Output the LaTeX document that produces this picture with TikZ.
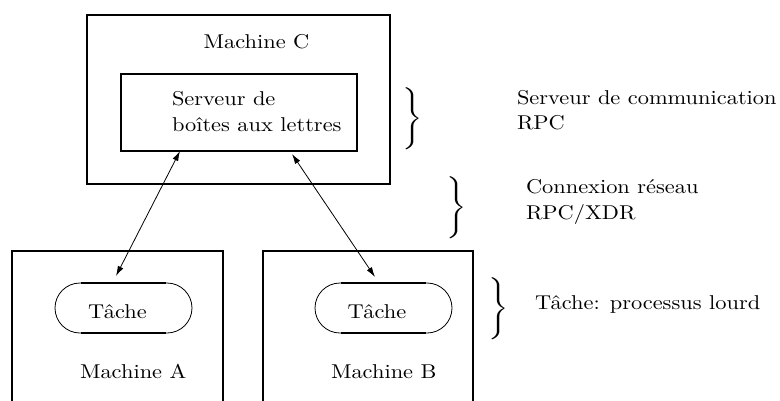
\documentclass[tikz,border=0pt]{standalone}
\usepackage{fontspec}
\usetikzlibrary{arrows.meta,shapes.misc}
% 10pt Latin Modern, stretched to the wide look of the labels
\newcommand\labeltext[1]{\scalebox{2.24}[2.0]{\fontsize{10}{12}\selectfont #1}}
% one large brace glyph, stretched
\newcommand\bigbrace{\scalebox{2.5}[2.07]{\fontsize{10}{12}\selectfont $\Bigg\}$}}
\begin{document}
\begin{tikzpicture}[x=1pt,y=-1pt,
  lbl/.style={inner sep=0pt, outer sep=0pt},
  frame/.style={draw, line width=2.2pt, inner sep=0pt, outer sep=0pt},
  task/.style={draw, line width=0.8pt, rounded rectangle, inner sep=0pt,
    outer sep=0pt, minimum width=137pt, minimum height=50pt},
  taskedge/.style={line width=2.2pt},
  link/.style={line width=0.8pt, {Latex[length=10pt,width=6pt]}-{Latex[length=10pt,width=6pt]}},
  brace/.style={inner sep=0pt, outer sep=0pt},
]
\useasboundingbox (0,0) rectangle (780,400);

% server machine
\node[frame, minimum width=303pt, minimum height=169pt] (mc) at (238.5,99.5) {};
\node[lbl, anchor=base] (mclabel) at (256.5,48) {\labeltext{Machine C}};
\node[frame, minimum width=236pt, minimum height=77pt] (srv) at (239,112.5) {};
\node[lbl, anchor=base west] (srvl1) at (172,105) {\labeltext{Serveur de}};
\node[lbl, anchor=base west] (srvl2) at (172,131) {\labeltext{boîtes aux lettres}};

% client machines (frames run off the bottom edge)
\draw[line width=2.2pt] (12,402) |- (223,251) -- (223,402);
\draw[line width=2.2pt] (263,402) |- (473,251) -- (473,402);

% tasks
\node[task] (ta) at (123.5,308) {};
\node[task] (tb) at (383.5,308) {};
\draw[taskedge] ([xshift=-42.5pt]ta.north) -- ([xshift=42.5pt]ta.north);
\draw[taskedge] ([xshift=-42.5pt]ta.south) -- ([xshift=42.5pt]ta.south);
\draw[taskedge] ([xshift=-42.5pt]tb.north) -- ([xshift=42.5pt]tb.north);
\draw[taskedge] ([xshift=-42.5pt]tb.south) -- ([xshift=42.5pt]tb.south);
\node[lbl, anchor=base] (tal) at (117.5,318) {\labeltext{Tâche}};
\node[lbl, anchor=base] (tbl) at (377,318) {\labeltext{Tâche}};
\node[lbl, anchor=base west] (mal) at (80,378) {\labeltext{Machine A}};
\node[lbl, anchor=base west] (mbl) at (331,378) {\labeltext{Machine B}};

% RPC links
\draw[link] ([xshift=-59pt]srv.south) -- ([xshift=-7.5pt,yshift=7pt]ta.north);
\draw[link] ([xshift=53pt,yshift=-3pt]srv.south) -- ([xshift=-8.5pt,yshift=6pt]tb.north);

% legend
\node[brace] (b1) at (413,119) {\bigbrace};
\node[brace] (b2) at (456.5,207.5) {\bigbrace};
\node[brace] (b3) at (498.5,309) {\bigbrace};
\node[lbl, anchor=base west] (l1a) at (517,104) {\labeltext{Serveur de communication}};
\node[lbl, anchor=base west] (l1b) at (517,129) {\labeltext{RPC}};
\node[lbl, anchor=base west] (l2a) at (526,193) {\labeltext{Connexion réseau}};
\node[lbl, anchor=base west] (l2b) at (526,219) {\labeltext{RPC/XDR}};
\node[lbl, anchor=base west] (l3) at (535,309) {\labeltext{Tâche: processus lourd}};
\end{tikzpicture}
\end{document}
